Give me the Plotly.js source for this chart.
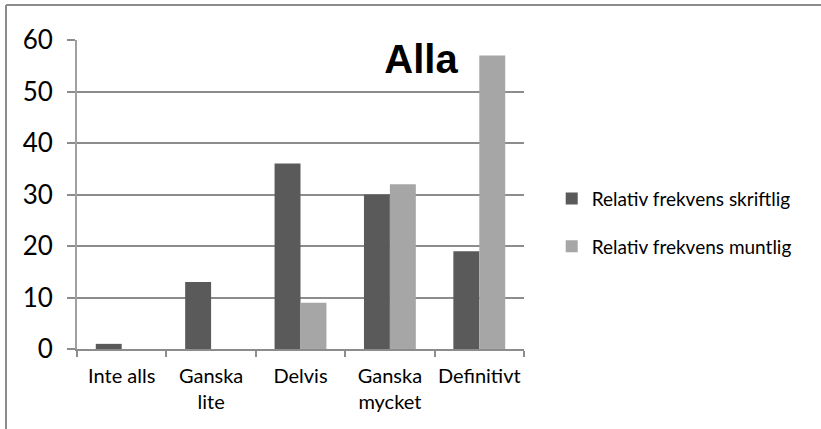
<!DOCTYPE html>
<html>
<head>
<meta charset="utf-8">
<script src="https://cdn.plot.ly/plotly-3.0.1.min.js"></script>
<style>
html,body{margin:0;padding:0;background:#fff;overflow:hidden;}
#chart{width:821px;height:429px;}
</style>
</head>
<body>
<div id="chart"></div>
<script>
const categories = ["Inte alls", "Ganska<br>lite", "Delvis", "Ganska<br>mycket", "Definitivt"];
const skriftlig = [1, 13, 36, 30, 19];
const muntlig = [0, 0, 9, 32, 57];
const seriesNames = ["Relativ frekvens skriftlig", "Relativ frekvens muntlig"];
const chartTitle = "Alla";

const traces = [
  {
    type: "bar", x: categories, y: skriftlig, name: seriesNames[0],
    legendgroup: "a",
    marker: {color: "#5a5a5a", line: {color: "#404040", width: 0}},
    hoverinfo: "y"
  },
  {
    type: "bar", x: categories, y: muntlig, name: seriesNames[1],
    legendgroup: "b",
    marker: {color: "#a6a6a6", line: {color: "#7a7a7a", width: 0}},
    hoverinfo: "y"
  }
];

const layout = {
  width: 821, height: 429,
  margin: {l: 77, r: 297, t: 40, b: 80},
  paper_bgcolor: "#ffffff", plot_bgcolor: "#ffffff",
  font: {family: "Lato, 'DejaVu Sans', sans-serif", color: "#000000"},
  barmode: "group",
  bargap: 0.42,
  bargroupgap: 0,
  showlegend: true,
  legend: {
    x: 1.062, xanchor: "left", y: 0.548, yanchor: "top",
    traceorder: "grouped", tracegroupgap: 20,
    font: {size: 19, family: "Lato, sans-serif", color: "#000"},
    bgcolor: "rgba(0,0,0,0)"
  },
  title: {
    text: "<b>" + chartTitle + "</b>",
    font: {family: "'Liberation Sans', Arial, sans-serif", size: 40, color: "#000"},
    x: 421 / 821, xref: "container", xanchor: "center",
    y: 1 - 73 / 429, yref: "container", yanchor: "bottom"
  },
  xaxis: {
    type: "category",
    showline: true, linecolor: "#8c8c8c", linewidth: 2,
    ticks: "outside", tickson: "boundaries", ticklen: 6, tickcolor: "#8c8c8c", tickwidth: 2,
    tickangle: 0,
    tickfont: {size: 20, family: "Lato, sans-serif", color: "#000"},
    ticklabelstandoff: 8,
    showgrid: false, zeroline: false,
    fixedrange: true
  },
  yaxis: {
    range: [0, 60], dtick: 10, tick0: 0,
    showline: true, linecolor: "#a0a0a0", linewidth: 2,
    ticks: "outside", ticklen: 8, tickcolor: "#8c8c8c", tickwidth: 2,
    showgrid: true, gridcolor: "#8c8c8c", gridwidth: 2,
    zeroline: false,
    tickfont: {size: 26, family: "Lato, sans-serif", color: "#000"},
    ticklabelstandoff: 9,
    fixedrange: true
  },
  shapes: [
    {type: "line", xref: "paper", yref: "paper",
     x0: -71 / 447, x1: -71 / 447, y0: -1, y1: 1 + 35 / 309,
     line: {color: "#8c8c8c", width: 2}, layer: "below"},
    {type: "line", xref: "paper", yref: "paper",
     x0: -71 / 447, x1: 2.5, y0: 1 + 35 / 309, y1: 1 + 35 / 309,
     line: {color: "#8c8c8c", width: 2}, layer: "below"}
  ]
};

Plotly.newPlot("chart", traces, layout, {displayModeBar: false, staticPlot: true});
</script>
</body>
</html>
